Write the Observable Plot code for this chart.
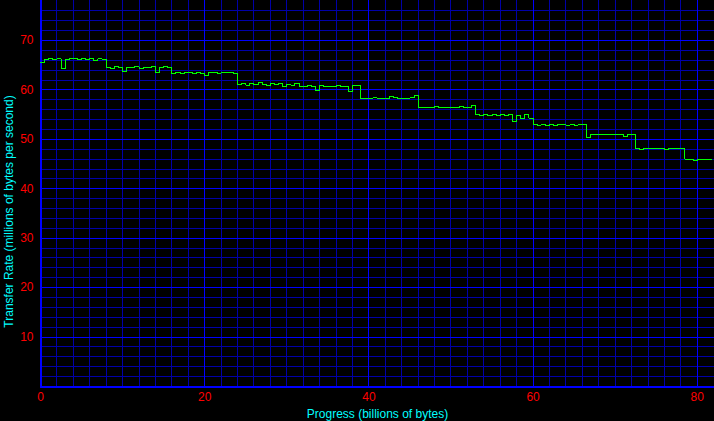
<!DOCTYPE html>
<html>
<head>
<meta charset="utf-8">
<script src="https://cdn.jsdelivr.net/npm/d3@7"></script>
<script src="https://cdn.jsdelivr.net/npm/@observablehq/plot@0.6"></script>
<style>
  html, body { margin: 0; padding: 0; background: #000; }
  #chart { width: 714px; height: 421px; overflow: hidden; }
</style>
</head>
<body>
<div id="chart"></div>
<script>
// Sample positions along the transfer (billions of bytes), every 0.5
const progress = d3.range(0, 82, 0.5);

// Transfer rate (millions of bytes per second)
const rate = [
  // 0 – 7.5
  65.6, 66.2, 66.3, 66.1, 66.3, 64.3, 66.2, 66.4, 66.3, 66.1, 66.3, 66.2, 66.3, 66.0, 66.3, 66.2,
  // 8 – 15.5
  64.6, 64.4, 64.7, 64.5, 63.8, 64.6, 64.5, 64.7, 64.4, 64.6, 64.5, 64.7, 63.5, 64.6, 64.7, 64.5,
  // 16 – 23.5
  63.4, 63.6, 63.3, 63.5, 63.6, 63.4, 63.5, 63.3, 62.9, 63.5, 63.6, 63.4, 63.5, 63.6, 63.5, 63.3,
  // 24 – 31
  61.2, 61.4, 61.0, 61.3, 61.1, 61.5, 61.2, 60.9, 61.3, 61.1, 61.4, 60.7, 61.2, 61.0, 61.3,
  // 31.5 – 38.5
  60.8, 60.6, 60.9, 60.7, 59.8, 60.9, 60.6, 60.8, 60.7, 60.9, 60.6, 60.8, 59.7, 61.0, 61.0,
  // 39 – 45.5
  58.3, 58.2, 58.3, 58.4, 58.3, 58.2, 58.3, 58.7, 58.4, 58.3, 58.2, 58.3, 58.4, 58.8,
  // 46 – 52.5
  56.5, 56.5, 56.4, 56.5, 56.6, 56.5, 56.5, 56.4, 56.5, 56.5, 56.6, 56.5, 56.5, 56.8,
  // 53 – 59.5
  55.0, 54.9, 55.0, 54.8, 55.0, 54.9, 55.0, 54.8, 55.0, 53.6, 54.9, 54.2, 55.0, 54.3,
  // 60 – 66
  53.0, 52.9, 53.1, 52.9, 53.0, 52.9, 53.0, 53.1, 52.9, 53.0, 52.9, 53.0, 53.0,
  // 66.5 – 72
  50.3, 50.9, 50.9, 51.0, 50.9, 50.9, 50.9, 50.9, 50.9, 50.6, 50.9, 50.9,
  // 72.5 – 78
  48.2, 47.9, 48.2, 48.2, 48.2, 48.2, 48.2, 47.9, 48.2, 48.2, 48.2, 48.2,
  // 78.5 – 81.5
  46.0, 46.0, 45.8, 46.0, 46.0, 46.0, 46.0
];
// the trace ends a little after the last sample
const endProgress = 81.8;
const endRate = 46.0;

const xTicks = [0, 20, 40, 60, 80];
const yTicks = [10, 20, 30, 40, 50, 60, 70];
const xMinor = [2, 4, 6, 8, 10, 12, 14, 16, 18, 22, 24, 26, 28, 30, 32, 34, 36, 38,
                42, 44, 46, 48, 50, 52, 54, 56, 58, 62, 64, 66, 68, 70, 72, 74, 76, 78];
const yMinor = [2, 4, 6, 8, 12, 14, 16, 18, 22, 24, 26, 28, 32, 34, 36, 38,
                42, 44, 46, 48, 52, 54, 56, 58, 62, 64, 66, 68, 72, 74, 76];
const xTitle = "Progress (billions of bytes)";
const yTitle = "Transfer Rate (millions of bytes per second)";

const data = progress.map((p, i) => ({progress: p, rate: rate[i]}));
data.push({progress: endProgress, rate: endRate});

const minorColor = "#0000a8";
const majorColor = "#0000ff";

const chart = Plot.plot({
  width: 714,
  height: 421,
  marginLeft: 40,
  marginRight: 0,
  marginTop: 0,
  marginBottom: 35,
  style: {
    background: "#000",
    color: "#ff0000",
    fontFamily: "'Liberation Sans', Arial, sans-serif",
    fontSize: "12px"
  },
  x: {domain: [0, 82.1], axis: null},
  y: {domain: [0, 78.1], axis: null},
  marks: [
    Plot.ruleX(xMinor, {stroke: minorColor, strokeWidth: 1, shapeRendering: "crispEdges"}),
    Plot.ruleY(yMinor, {stroke: minorColor, strokeWidth: 1, shapeRendering: "crispEdges"}),
    Plot.ruleX(xTicks, {stroke: majorColor, strokeWidth: 1, shapeRendering: "crispEdges"}),
    Plot.ruleY(yTicks, {stroke: majorColor, strokeWidth: 1, shapeRendering: "crispEdges"}),
    Plot.ruleX([0], {stroke: majorColor, strokeWidth: 2, shapeRendering: "crispEdges"}),
    Plot.ruleY([0], {stroke: majorColor, strokeWidth: 2, shapeRendering: "crispEdges"}),
    Plot.line(data, {x: "progress", y: "rate", stroke: "#00ff00", strokeWidth: 1, curve: "step-after", shapeRendering: "crispEdges"}),
    Plot.axisX(xTicks, {tickSize: 0, tickPadding: 6, fill: "#ff0000", label: null, tickFormat: d => String(d)}),
    Plot.axisY(yTicks, {tickSize: 0, tickPadding: 7, fill: "#ff0000", label: null, tickFormat: d => String(d)}),
    Plot.text([xTitle], {frameAnchor: "bottom", dy: 31, fill: "#00ffff", fontSize: 12}),
    Plot.text([yTitle], {frameAnchor: "left", textAnchor: "middle", rotate: -90, dx: -31, dy: 18, fill: "#00ffff", fontSize: 12})
  ]
});

document.getElementById("chart").appendChild(chart);
</script>
</body>
</html>
